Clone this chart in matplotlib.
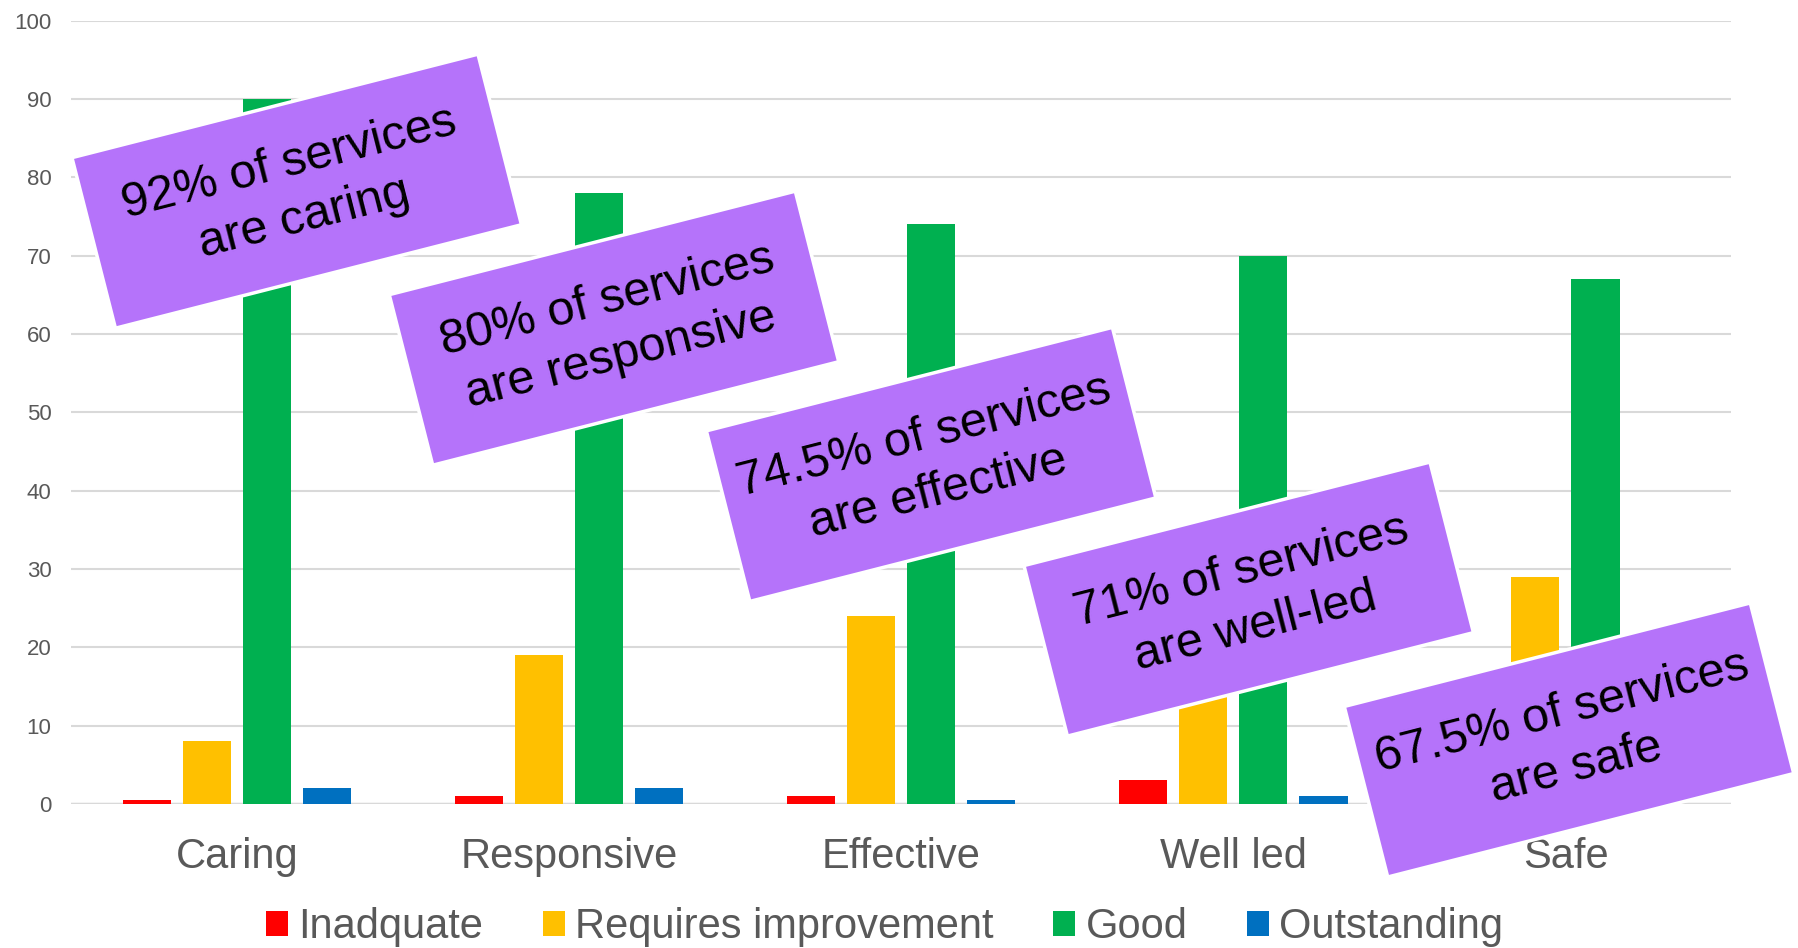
import numpy as np
import matplotlib
matplotlib.use('Agg')
import matplotlib.pyplot as plt
from matplotlib.patches import Rectangle
from matplotlib.transforms import Affine2D

plt.rcParams['font.family'] = ['Liberation Sans', 'DejaVu Sans']

categories = ['Caring', 'Responsive', 'Effective', 'Well led', 'Safe']
inadequate = [0.5, 1, 1, 3, 3.5]
requires_imp = [8, 19, 24, 26, 29]
good = [90, 78, 74, 70, 67]
outstanding = [2, 2, 0.5, 1, 0.5]
series_names = ['Inadquate', 'Requires improvement', 'Good', 'Outstanding']
colors = ['#FF0000', '#FFC000', '#00B050', '#0070C0']

notes = ['92% of services\nare caring',
         '80% of services\nare responsive',
         '74.5% of services\nare effective',
         '71% of services\nare well-led',
         '67.5% of services\nare safe']

fig = plt.figure(figsize=(17.98, 9.48), dpi=100)
ax = fig.add_axes([0.0395, 0.152, 0.9235, 0.826])

x = np.arange(len(categories))
w = 0.145
step = 0.181
allvals = [inadequate, requires_imp, good, outstanding]
for i, vals in enumerate(allvals):
    ax.bar(x + (i - 1.5) * step, vals, width=w, color=colors[i],
           label=series_names[i], zorder=3)

ax.set_xlim(-0.5, len(categories) - 0.5)
ax.set_ylim(0, 100)
ax.set_yticks(np.arange(0, 101, 10))
ax.set_xticks(x)
ax.set_xticklabels(categories)
ax.grid(axis='y', color='#D9D9D9', lw=1.5, zorder=0)
for s in ax.spines.values():
    s.set_visible(False)
ax.axhline(0, color='#D9D9D9', lw=2.5, zorder=2)
ax.tick_params(axis='y', length=0, labelsize=16, labelcolor='#595959', pad=14)
ax.tick_params(axis='x', length=0, labelsize=30, labelcolor='#595959', pad=24)

fig.legend(loc='center', bbox_to_anchor=(0.492, 0.022), ncol=4, frameon=False,
           fontsize=30, labelcolor='#595959', handlelength=0.53, handleheight=0.53,
           handletextpad=0.24, columnspacing=1.44)

# rotated purple call-out boxes (inches)
ang = 14.3
bw, bh = 4.19, 1.76
centers = [(2.967, 7.568), (6.140, 6.198), (9.311, 4.836), (12.487, 3.489), (15.690, 2.08)]
for (cx, cy), txt in zip(centers, notes):
    tr = Affine2D().rotate_deg_around(cx, cy, ang) + fig.dpi_scale_trans
    r = Rectangle((cx - bw / 2, cy - bh / 2), bw, bh, facecolor='#B573FA',
                  edgecolor='white', lw=2.5, transform=tr, zorder=5)
    fig.add_artist(r)
    fig.text(cx, cy, txt, transform=fig.dpi_scale_trans, rotation=ang,
             rotation_mode='anchor', ha='center', va='center',
             multialignment='center', fontsize=35, color='black', zorder=6,
             linespacing=1.35)

plt.savefig('out.png', dpi=100)
